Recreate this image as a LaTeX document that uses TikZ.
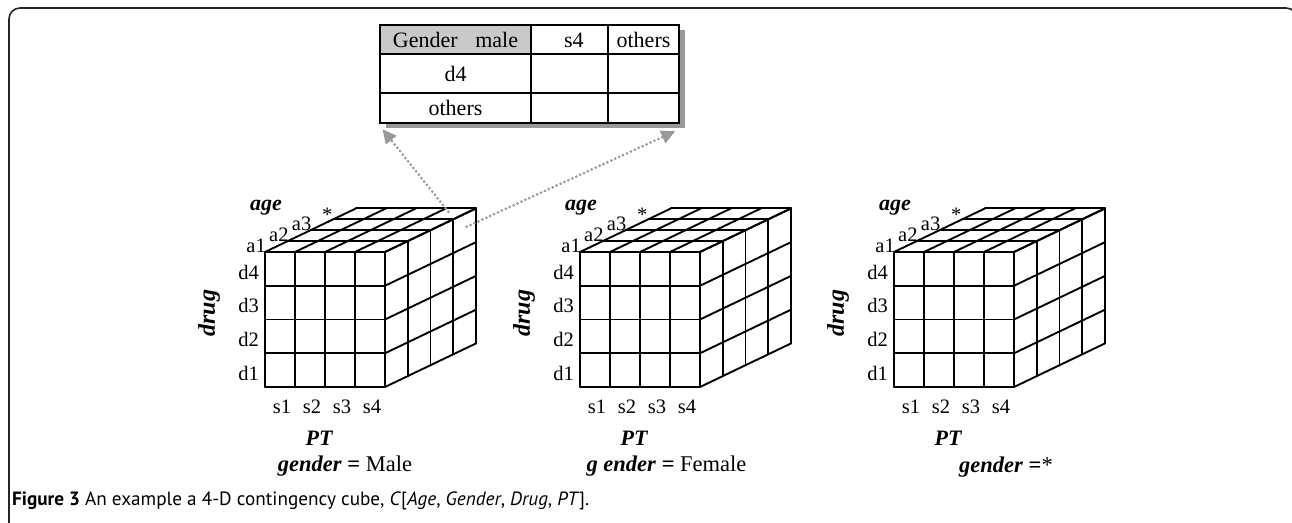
\documentclass[tikz,border=0pt]{standalone}
\usepackage{fontspec}
\setmainfont{Liberation Serif}
\newfontfamily\capfont{PT Sans}
\usetikzlibrary{arrows.meta,calc}

\tikzset{
  gridline/.style={line width=1.9pt, line cap=round, line join=round},
  lab/.style={font=\fontsize{20.5}{24}\selectfont, inner sep=0pt},
  axislab/.style={font=\fontsize{22}{26}\selectfont\bfseries\itshape, inner sep=0pt},
  tabcell/.style={draw, line width=2pt, inner sep=0pt, fill=white,
    font=\fontsize{22}{26}\selectfont, text height=15pt, text depth=0pt},
  linkarrow/.style={draw=gray!80, line width=3pt, line cap=round,
    dash pattern=on 0pt off 4.3pt,
    -{Triangle[length=14pt,width=13pt,fill=gray!80,color=gray!80]}},
  framestyle/.style={draw=black!85, line width=1.6pt, rounded corners=11pt},
}

\newcommand{\drawcube}[2]{%
\begin{scope}[shift={(#1,0)}]
  \foreach \j in {0,...,4}{
    \draw[gridline] (30*\j,252) -- (30*\j,387);
    \draw[gridline] (30*\j,252) -- ++(91,-43.6);
  }
  \foreach \i in {0,...,4}{
    \draw[gridline] (0,252+33.75*\i) -- (120,252+33.75*\i);
    \draw[gridline] (120,252+33.75*\i) -- ++(91,-43.6);
  }
  \foreach \k in {1,...,4}{
    \draw[gridline] (22.75*\k,252-10.9*\k) -- (120+22.75*\k,252-10.9*\k);
    \draw[gridline] (120+22.75*\k,252-10.9*\k) -- (120+22.75*\k,387-10.9*\k);
  }
  \node[lab, anchor=base east] (#2-a1) at (1,252) {a1};
  \node[lab, anchor=base east] (#2-a2) at (23.75,241.1) {a2};
  \node[lab, anchor=base east] (#2-a3) at (46.5,230.2) {a3};
  \node[lab, anchor=base east] (#2-a4) at (67.5,221.5) {*};
  \node[axislab, anchor=base] (#2-age) at (1,210.5) {age};
  \foreach \i/\t in {0/d4,1/d3,2/d2,3/d1}
    \node[lab, anchor=base east] (#2-\t) at (-6,279.2+33.75*\i) {\t};
  \node[axislab, rotate=90, font=\fontsize{24}{28}\selectfont\bfseries\itshape] (#2-drug) at (-56,313) {drug};
  \foreach \j in {1,...,4}
    \node[lab, anchor=base] (#2-s\j) at (30*\j-13,413) {s\j};
  \node[axislab, anchor=base] (#2-pt) at (54,445) {PT};
\end{scope}}

\begin{document}
\begin{tikzpicture}[x=1pt,y=-1pt]
  \useasboundingbox (0,0) rectangle (1292,522);
  \begin{scope}
    \clip (0,0) rectangle (1292,522);
    \draw[framestyle] (9,540) -- (9,8) -- (1297,8) -- (1297,540);
  \end{scope}

  % table with shadow
  \fill[gray!80] (385.5,30) rectangle (685,127.5);
  \node[tabcell, fill=gray!42, minimum width=151pt, minimum height=29.3pt] (t11) at (455.5,39.65) {Gender\hspace{0.8em}male};
  \node[tabcell, minimum width=76.7pt, minimum height=29.3pt] (t12) at (569.35,39.65) {\hspace{9pt}s4};
  \node[tabcell, minimum width=71.6pt, minimum height=29.3pt] (t13) at (643.5,39.65) {others};
  \node[tabcell, minimum width=151pt, minimum height=39pt] (t21) at (455.5,73.8) {d4};
  \node[tabcell, minimum width=76.7pt, minimum height=39pt] (t22) at (569.35,73.8) {};
  \node[tabcell, minimum width=71.6pt, minimum height=39pt] (t23) at (643.5,73.8) {};
  \node[tabcell, minimum width=151pt, minimum height=29.4pt] (t31) at (455.5,108) {others};
  \node[tabcell, minimum width=76.7pt, minimum height=29.4pt] (t32) at (569.35,108) {};
  \node[tabcell, minimum width=71.6pt, minimum height=29.4pt] (t33) at (643.5,108) {};

  % cubes
  \drawcube{265}{c1}
  \drawcube{580}{c2}
  \drawcube{894}{c3}

  \node[inner sep=0pt, anchor=base, font=\fontsize{22.5}{26}\selectfont] (g1) at (345,471.5)
    {\textbf{\textit{gender}} \textbf{=} Male};
  \node[inner sep=0pt, anchor=base, font=\fontsize{22.5}{26}\selectfont] (g2) at (666.5,471.5)
    {\textbf{\textit{g ender}} \textbf{=} Female};
  \node[inner sep=0pt, anchor=base, font=\fontsize{22.5}{26}\selectfont] (g3) at (1006,472)
    {\textbf{\textit{gender}} \textbf{=}*};

  % dotted arrows
  \coordinate (srcL) at (448.3,211.7);
  \coordinate (srcR) at (466.7,226.7);
  \coordinate (tipL) at ($(t31.south west)+(3.5,5.5)$);
  \coordinate (tipR) at ($(t33.south east)+(-5,7.5)$);
  \draw[linkarrow] (srcL) -- (tipL);
  \draw[linkarrow] (srcR) -- (tipR);

  % caption
  \node[inner sep=0pt, anchor=base west, font=\capfont\fontsize{19.2}{22}\selectfont] (cap) at (12,505.5)
    {\textbf{Figure 3} An example a 4-D contingency cube, \textit{C}[\textit{Age}, \textit{Gender}, \textit{Drug}, \textit{PT}].};
\end{tikzpicture}
\end{document}
